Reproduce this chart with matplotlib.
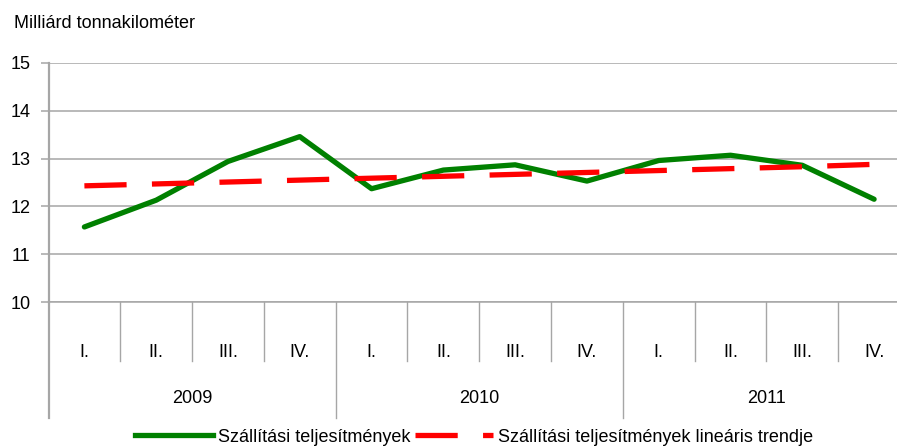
import matplotlib.pyplot as plt
from matplotlib.lines import Line2D

# data
quarters = ['I.', 'II.', 'III.', 'IV.'] * 3
years = ['2009', '2010', '2011']
performance = [11.57, 12.13, 12.94, 13.46, 12.37, 12.76, 12.87, 12.53, 12.96, 13.07, 12.86, 12.15]
trend = [12.43, 12.47, 12.51, 12.55, 12.59, 12.63, 12.67, 12.71, 12.75, 12.79, 12.83, 12.88]

plt.rcParams['font.family'] = ['Liberation Sans', 'DejaVu Sans']
fs = 13

W, H = 897, 448
fig = plt.figure(figsize=(W / 100, H / 100), dpi=100)
# plot area runs past the right edge of the picture, like the original
left, right, top, bottom = 48.5, 910, 63, 302
ax = fig.add_axes([left / W, 1 - bottom / H, (right - left) / W, (bottom - top) / H])

x = list(range(len(performance)))
ax.plot(x, performance, color='#008000', lw=3.8, solid_capstyle='round', zorder=3)
ax.plot(x, trend, color='#ff0000', lw=3.8, dashes=(8.0, 4.8), zorder=4)

ax.set_xlim(-0.5, 11.5)
ax.set_ylim(10, 15)
ax.set_yticks([10, 11, 12, 13, 14, 15])
ax.yaxis.grid(True, color='#a6a6a6', lw=1.1)
ax.set_axisbelow(True)
for s in ['top', 'right']:
    ax.spines[s].set_visible(False)
ax.spines['left'].set_color('#a6a6a6')
ax.spines['left'].set_linewidth(1.6)
ax.spines['bottom'].set_color('#a6a6a6')
ax.spines['bottom'].set_linewidth(1.1)
ax.tick_params(axis='y', length=6, color='#a6a6a6', width=1.1, pad=7, labelsize=fs)

ax.set_xticks(x)
ax.set_xticklabels(quarters, fontsize=fs)
ax.tick_params(axis='x', length=0, pad=30)

tr = ax.get_xaxis_transform()
hpx = bottom - top
q_depth = -(360.7 - bottom) / hpx
y_depth = -(418 - bottom) / hpx
for b in range(1, 12):
    depth = y_depth if b % 4 == 0 else q_depth
    ax.plot([b - 0.5, b - 0.5], [0, depth], transform=tr, color='#a6a6a6', lw=1.0, clip_on=False)
ax.plot([-0.5, -0.5], [0, y_depth], transform=tr, color='#a6a6a6', lw=1.6, clip_on=False)
for i, yr in enumerate(years):
    ax.text(4 * i + 1.5, -(398 - bottom) / hpx, yr, transform=tr, ha='center', va='center', fontsize=fs)

fig.text(14 / W, 1 - 24 / H, 'Milliárd tonnakilométer', ha='left', va='center', fontsize=fs)

handles = [Line2D([], [], color='#008000', lw=3.8),
           Line2D([], [], color='#ff0000', lw=3.8, dashes=(8.0, 4.8))]
labels = ['Szállítási teljesítmények', 'Szállítási teljesítmények lineáris trendje']
fig.legend(handles, labels, loc='center', bbox_to_anchor=(474 / W, 1 - 437 / H), ncol=2,
           frameon=False, fontsize=fs, handlelength=4.3, handletextpad=0.3, columnspacing=0.25,
           borderpad=0, borderaxespad=0)

fig.savefig('out.png', dpi=100)
